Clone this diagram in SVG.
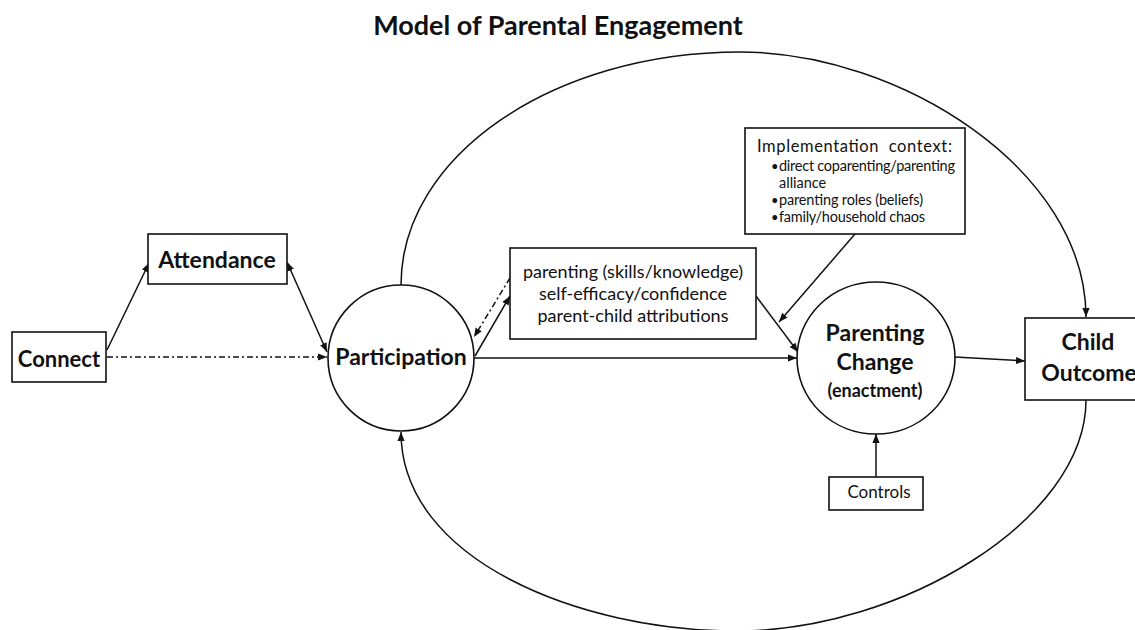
<svg xmlns="http://www.w3.org/2000/svg" width="1135" height="630" viewBox="0 0 1135 630">
<defs>
<marker id="ah" viewBox="0 0 10 8" refX="10" refY="4" markerWidth="9" markerHeight="7.5" markerUnits="userSpaceOnUse" orient="auto-start-reverse">
<path d="M0,0 L10,4 L0,8 z" fill="#111"/>
</marker>
<style>
.box{fill:#fff;stroke:#111;stroke-width:1.6}
.ln{fill:none;stroke:#111;stroke-width:1.5}
.dd{stroke-dasharray:6 3 2 3}
.b{font-family:Lato,"Liberation Sans",sans-serif;font-weight:bold;fill:#111;text-anchor:middle}
.r{font-family:Lato,"Liberation Sans",sans-serif;fill:#111}
.c{text-anchor:middle}
</style>
</defs>
<rect width="1135" height="630" fill="#fff"/>
<text id="title" class="b" x="558" y="35" font-size="27">Model of Parental Engagement</text>

<g id="connectors">
<path class="ln" d="M401 285 C401 156 553 52 740 52 C900 52 1086 170 1086 317" marker-end="url(#ah)"/>
<path class="ln" d="M1086 400 C1086 520 900 631 737 631 C580 631 401 560 401 432" marker-end="url(#ah)"/>
<path class="ln" d="M107 350 L149 263" marker-end="url(#ah)"/>
<path class="ln dd" d="M107 357 L327 357" marker-end="url(#ah)"/>
<path class="ln" d="M287 262 L327 352" marker-start="url(#ah)" marker-end="url(#ah)"/>
<path class="ln" d="M475 356 L510 296" marker-end="url(#ah)"/>
<path class="ln dd" d="M510 278 L474 337" marker-end="url(#ah)"/>
<path class="ln" d="M474 358 L797 358" marker-end="url(#ah)"/>
<path class="ln" d="M756 296 L798 352" marker-end="url(#ah)"/>
<path class="ln" d="M855 234 L779 322" marker-end="url(#ah)"/>
<path class="ln" d="M955 357 L1025 361" marker-end="url(#ah)"/>
<path class="ln" d="M876 477 L876 434" marker-end="url(#ah)"/>
</g>

<g id="connect">
<rect class="box" x="12" y="332" width="94" height="50"/>
<text class="b" x="59" y="367" font-size="22">Connect</text>
</g>
<g id="attendance">
<rect class="box" x="148" y="234" width="139" height="50"/>
<text class="b" x="217" y="268" font-size="23">Attendance</text>
</g>
<g id="participation">
<circle class="box" cx="401" cy="358" r="73"/>
<text class="b" x="401" y="365" font-size="23">Participation</text>
</g>
<g id="mediators">
<rect class="box" x="510" y="248" width="246" height="91"/>
<text class="r c" x="633" y="278" font-size="18">parenting (skills/knowledge)</text>
<text class="r c" x="633" y="300" font-size="18">self-efficacy/confidence</text>
<text class="r c" x="633" y="322" font-size="18">parent-child attributions</text>
</g>
<g id="context">
<rect class="box" x="745" y="128" width="220" height="106"/>
<text class="r" x="757" y="152" font-size="16.5" textLength="195" xml:space="preserve">Implementation  context:</text>
<text class="r" x="771" y="171" font-size="13">•</text>
<text class="r" x="779" y="171" font-size="14.5" textLength="176">direct coparenting/parenting</text>
<text class="r" x="779" y="188" font-size="14.5">alliance</text>
<text class="r" x="771" y="205" font-size="13">•</text>
<text class="r" x="779" y="205" font-size="14.5" textLength="144">parenting roles (beliefs)</text>
<text class="r" x="771" y="222" font-size="13">•</text>
<text class="r" x="779" y="222" font-size="14.5" textLength="146">family/household chaos</text>
</g>
<g id="parenting-change">
<ellipse class="box" cx="876" cy="358" rx="79" ry="76"/>
<text class="b" x="875" y="341" font-size="23">Parenting</text>
<text class="b" x="875" y="370" font-size="23">Change</text>
<text class="b" x="875" y="397" font-size="18">(enactment)</text>
</g>
<g id="child-outcome">
<rect class="box" x="1025" y="318" width="130" height="82"/>
<text class="b" x="1088" y="350" font-size="23">Child</text>
<text class="b" x="1089" y="381" font-size="23">Outcome</text>
</g>
<g id="controls">
<rect class="box" x="829" y="477" width="94" height="33"/>
<text class="r c" x="879" y="498" font-size="17">Controls</text>
</g>
</svg>
